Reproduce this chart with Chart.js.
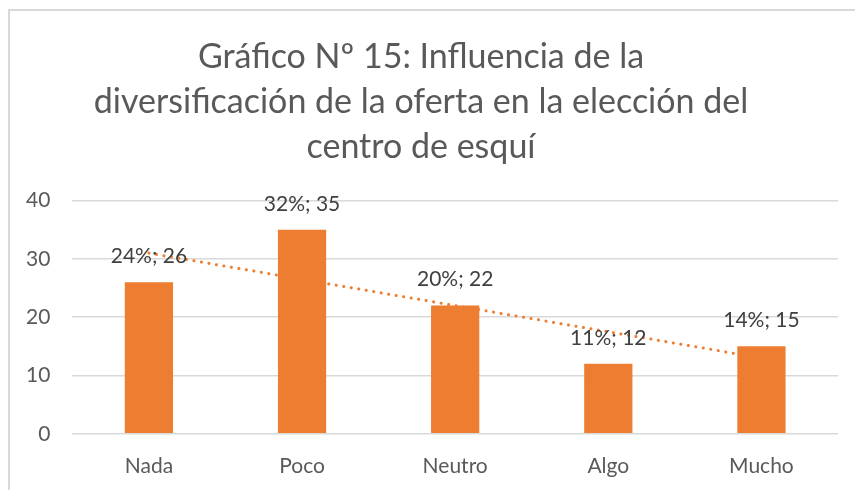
<!DOCTYPE html>
<html>
<head>
<meta charset="utf-8">
<script src="https://cdn.jsdelivr.net/npm/chart.js@4/dist/chart.umd.min.js"></script>
<style>
  html, body { margin: 0; padding: 0; background: #fff; overflow: hidden; }
  #frame { position: absolute; left: 8px; top: 9px; width: 900px; height: 600px; border: 2px solid #d9d9d9; }
  #wrap { position: absolute; left: 0; top: 0; width: 855px; height: 490px; }
</style>
</head>
<body>
<div id="frame"></div>
<div id="wrap"><canvas id="chart"></canvas></div>
<script>
// ===== data =====
const categories = ['Nada', 'Poco', 'Neutro', 'Algo', 'Mucho'];
const counts = [26, 35, 22, 12, 15];
const percents = ['24%', '32%', '20%', '11%', '14%'];
const yTicks = [0, 10, 20, 30, 40];
const titleLines = [
  'Gráfico Nº 15: Influencia de la',
  'diversificación de la oferta en la elección del',
  'centro de esquí'
];

const FONT = 'Lato, "Open Sans", sans-serif';
const ORANGE = '#ED7D31';

// linear trend line (least squares), like the spreadsheet trendline
function linearTrend(values) {
  const n = values.length;
  const xs = values.map((_, i) => i + 1);
  const mx = xs.reduce((a, b) => a + b, 0) / n;
  const my = values.reduce((a, b) => a + b, 0) / n;
  let num = 0, den = 0;
  xs.forEach((x, i) => { num += (x - mx) * (values[i] - my); den += (x - mx) * (x - mx); });
  const slope = num / den;
  return xs.map(x => my + slope * (x - mx));
}

// bar labels "pct; value" above each bar
const barLabels = {
  id: 'barLabels',
  afterDatasetsDraw(chart) {
    const meta = chart.getDatasetMeta(0);
    const ctx = chart.ctx;
    ctx.save();
    ctx.font = '21px ' + FONT;
    ctx.fillStyle = '#404040';
    ctx.textAlign = 'center';
    ctx.textBaseline = 'middle';
    meta.data.forEach((bar, i) => {
      ctx.fillText(percents[i] + '; ' + counts[i], bar.x, bar.y - 26);
    });
    ctx.restore();
  }
};

new Chart(document.getElementById('chart'), {
  type: 'bar',
  data: {
    labels: categories,
    datasets: [
      {
        label: 'Frecuencia',
        data: counts,
        backgroundColor: ORANGE,
        categoryPercentage: 1,
        barPercentage: 0.315,
        order: 1
      },
      {
        type: 'line',
        label: 'Lineal',
        data: linearTrend(counts),
        borderColor: ORANGE,
        borderWidth: 3,
        borderDash: [0.1, 7.5],
        borderCapStyle: 'round',
        pointRadius: 0,
        fill: false,
        order: 0
      }
    ]
  },
  options: {
    responsive: true,
    maintainAspectRatio: false,
    animation: false,
    layout: { padding: { left: 4, right: 17, bottom: -9, top: 0 } },
    plugins: {
      legend: { display: false },
      tooltip: { enabled: false },
      title: {
        display: true,
        text: titleLines,
        color: '#595959',
        font: { family: FONT, size: 34, weight: 'normal', lineHeight: 1.32 },
        padding: { top: 35, bottom: 31 }
      }
    },
    scales: {
      y: {
        min: 0,
        max: 40,
        afterBuildTicks: axis => { axis.ticks = yTicks.map(v => ({ value: v })); },
        grid: { color: '#d9d9d9', lineWidth: 1.5, drawTicks: false },
        border: { display: false },
        ticks: { color: '#595959', font: { family: FONT, size: 21 }, padding: 22 }
      },
      x: {
        grid: { display: false, drawTicks: false },
        border: { display: false },
        ticks: { color: '#595959', font: { family: FONT, size: 21 }, padding: 20 }
      }
    }
  },
  plugins: [barLabels]
});
</script>
</body>
</html>
